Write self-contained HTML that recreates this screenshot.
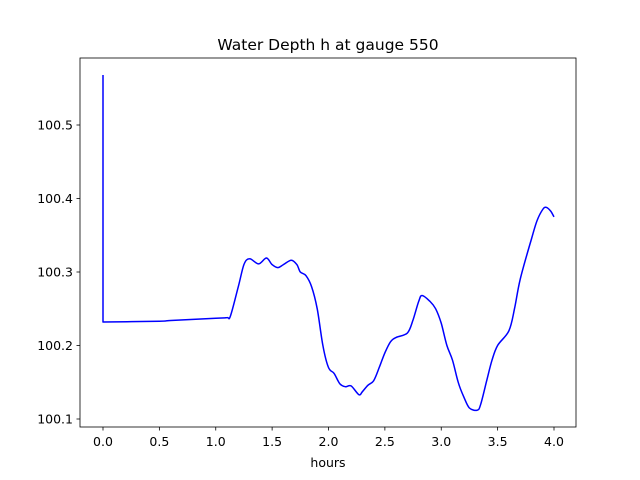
<!DOCTYPE html>
<html><head><meta charset="utf-8"><style>body{margin:0;background:#fff}svg{display:block;font-family:"DejaVu Sans","Liberation Sans",sans-serif}</style></head>
<body>
<svg id="c" width="640" height="480"></svg>
<script>
const hours=[0,0,0.5,0.6,1.0,1.1,1.13,1.2,1.25,1.3,1.38,1.45,1.5,1.55,1.6,1.67,1.72,1.75,1.8,1.85,1.9,1.95,2.0,2.05,2.1,2.15,2.2,2.27,2.3,2.35,2.4,2.45,2.5,2.55,2.6,2.7,2.75,2.8,2.83,2.9,2.95,3.0,3.05,3.1,3.15,3.2,3.25,3.32,3.35,3.4,3.45,3.5,3.6,3.65,3.7,3.8,3.85,3.9,3.93,3.97,4.0];
const depth=[100.568,100.232,100.233,100.234,100.237,100.238,100.24,100.28,100.31,100.318,100.311,100.319,100.31,100.306,100.31,100.316,100.31,100.30,100.295,100.28,100.25,100.2,100.17,100.162,100.148,100.144,100.145,100.133,100.137,100.146,100.152,100.17,100.19,100.205,100.211,100.217,100.235,100.26,100.268,100.26,100.25,100.23,100.2,100.18,100.15,100.13,100.115,100.112,100.12,100.15,100.18,100.2,100.22,100.25,100.29,100.345,100.37,100.385,100.388,100.383,100.375];
const xTicks=[0,0.5,1,1.5,2,2.5,3,3.5,4];
const xTickLabels=["0.0","0.5","1.0","1.5","2.0","2.5","3.0","3.5","4.0"];
const yTicks=[100.1,100.2,100.3,100.4,100.5];
const yTickLabels=["100.1","100.2","100.3","100.4","100.5"];
const L=80,R=576,T=58,B=427;
const X=v=>103+v*112.75, Y=v=>419-(v-100.1)*735;
const svg=document.getElementById('c'),NS='http://www.w3.org/2000/svg';
function mk(t,a,txt){const e=document.createElementNS(NS,t);for(const k in a)e.setAttribute(k,a[k]);if(txt!=null)e.textContent=txt;svg.appendChild(e);return e;}
const P=hours.map((h,i)=>[X(h),Y(depth[i])]);
let d='M'+P[0][0]+','+P[0][1]+'L'+P[1][0]+','+P[1][1];
for(let i=1;i<P.length-1;i++){const p0=P[Math.max(i-1,1)],p1=P[i],p2=P[i+1],p3=P[Math.min(i+2,P.length-1)];
const c1=[p1[0]+(p2[0]-p0[0])/6,p1[1]+(p2[1]-p0[1])/6],c2=[p2[0]-(p3[0]-p1[0])/6,p2[1]-(p3[1]-p1[1])/6];
d+='C'+c1.map(v=>v.toFixed(1)).join(',')+' '+c2.map(v=>v.toFixed(1)).join(',')+' '+p2[0].toFixed(1)+','+p2[1].toFixed(1);}
const line=mk('path',{d:d,fill:'none',stroke:'#0000ff','stroke-width':1.5,'stroke-linejoin':'round'});


const fr=mk('rect',{x:L,y:T,width:R-L,height:B-T,fill:'none',stroke:'#000','stroke-width':0.8});


xTicks.forEach((v,i)=>{mk('line',{x1:X(v),x2:X(v),y1:B,y2:B+3.5,stroke:'#000','stroke-width':0.8});
const t=mk('text',{x:X(v),y:B+19,'text-anchor':'middle','font-size':12.5},xTickLabels[i]);

});
yTicks.forEach((v,i)=>{mk('line',{x1:L-3.5,x2:L,y1:Y(v),y2:Y(v),stroke:'#000','stroke-width':0.8});
const t=mk('text',{x:L-7,y:Y(v)+4.5,'text-anchor':'end','font-size':12.5},yTickLabels[i]);

});
const xt=mk('text',{x:328,y:467,'text-anchor':'middle','font-size':12.5},'hours');


const tt=mk('text',{x:328,y:50,'text-anchor':'middle','font-size':15.5},'Water Depth h at gauge 550');


</script>
</body></html>
